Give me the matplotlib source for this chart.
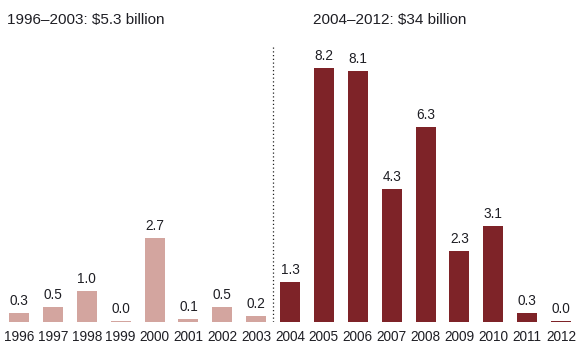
import matplotlib.pyplot as plt

plt.rcParams['font.family'] = ['Liberation Sans', 'DejaVu Sans']

years = ['1996', '1997', '1998', '1999', '2000', '2001', '2002', '2003', '2004',
         '2005', '2006', '2007', '2008', '2009', '2010', '2011', '2012']
values = [0.3, 0.5, 1.0, 0.045, 2.7, 0.1, 0.5, 0.2, 1.3,
          8.2, 8.1, 4.3, 6.3, 2.3, 3.1, 0.3, 0.045]
period_titles = ['1996–2003: $5.3 billion', '2004–2012: $34 billion']

early_color = '#d3a59f'
late_color = '#7e2328'
text_color = '#1e1e24'

fig = plt.figure(figsize=(5.8, 3.48), dpi=100)
ax = fig.add_axes([0.0036, 0.0747, 0.993, 0.845])

x = range(len(years))
colors = [early_color if int(y) < 2004 else late_color for y in years]
bars = ax.bar(x, values, width=0.59, color=colors)

for xi, v in zip(x, values):
    ax.text(xi, v + 0.16, f'{v:.1f}', ha='center', va='bottom',
            fontsize=9.8, color=text_color)

# divider between the two periods
ax.plot([7.5, 7.5], [0, 8.87], linestyle=(0, (1, 2)), color='#222222', linewidth=0.9)

ax.set_xlim(-0.5, len(years) - 0.5)
ax.set_ylim(0, 9.5)
ax.set_xticks(list(x))
ax.set_xticklabels(years, fontsize=9.8, color=text_color)
ax.tick_params(axis='x', length=0, pad=6)
ax.set_yticks([])
for s in ax.spines.values():
    s.set_visible(False)

fig.text(7 / 580, 1 - 24 / 348, period_titles[0], fontsize=11, color=text_color,
         ha='left', va='baseline')
fig.text(313 / 580, 1 - 24 / 348, period_titles[1], fontsize=11, color=text_color,
         ha='left', va='baseline')

fig.savefig('out.png', dpi=100)
